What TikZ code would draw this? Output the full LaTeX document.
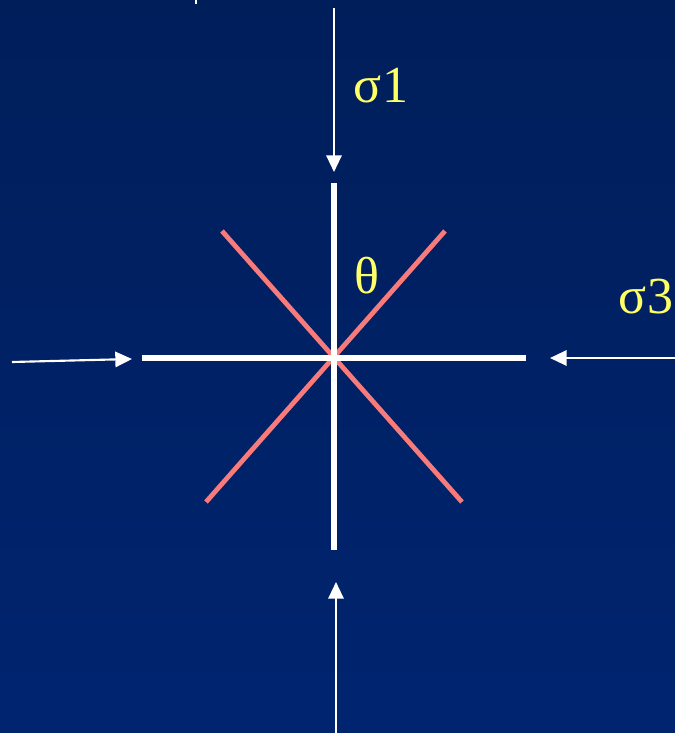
\documentclass[tikz,border=0pt]{standalone}
\usepackage{fontspec}
\setmainfont{Liberation Serif}
\usetikzlibrary{arrows.meta}
\definecolor{bgtop}{HTML}{001E5A}
\definecolor{bgbot}{HTML}{002470}
\definecolor{lbl}{HTML}{FFFF66}
\definecolor{plane}{HTML}{F87A7A}
\begin{document}
\begin{tikzpicture}[x=0.75pt,y=-0.75pt,
  force/.style={draw=white,line width=1.6pt,-{Triangle[length=12.5pt,width=11.5pt]}},
  axisbar/.style={draw=white,line width=5pt},
  planeline/.style={draw=plane,line width=3.6pt},
  lab/.style={text=lbl,font=\fontsize{39}{42}\selectfont,inner sep=0pt}]
\shade[top color=bgtop,bottom color=bgbot] (0,0) rectangle (675,733);
\useasboundingbox (0,0) rectangle (675,733);
% small tick at top
\draw[white,line width=1.5pt] (196,0) -- (196,4);
% coordinates
\coordinate (t0) at (334,8);   \coordinate (t1) at (334,172);
\coordinate (b0) at (336,733); \coordinate (b1) at (336,582);
\coordinate (l0) at (12,362);  \coordinate (l1) at (132,359);
\coordinate (r0) at (675,358); \coordinate (r1) at (550,358);
\coordinate (vA) at (334,183); \coordinate (vB) at (334,550);
\coordinate (hA) at (142,358); \coordinate (hB) at (526,358);
\coordinate (p1a) at (222,231); \coordinate (p1b) at (462,502);
\coordinate (p2a) at (445,231); \coordinate (p2b) at (206,502);
% planes
\draw[planeline] (p1a) -- (p1b);
\draw[planeline] (p2a) -- (p2b);
% axes
\draw[axisbar] (vA) -- (vB);
\draw[axisbar] (hA) -- (hB);
% forces
\draw[force] (t0) -- (t1);
\draw[force] (b0) -- (b1);
\draw[force] (l0) -- (l1);
\draw[force] (r0) -- (r1);
% labels
\node[lab] (s1) at (381,86) {σ1};
\node[lab] (s3) at (646,297) {σ3};
\node[lab] (th) at (367,276) {θ};
\end{tikzpicture}
\end{document}
